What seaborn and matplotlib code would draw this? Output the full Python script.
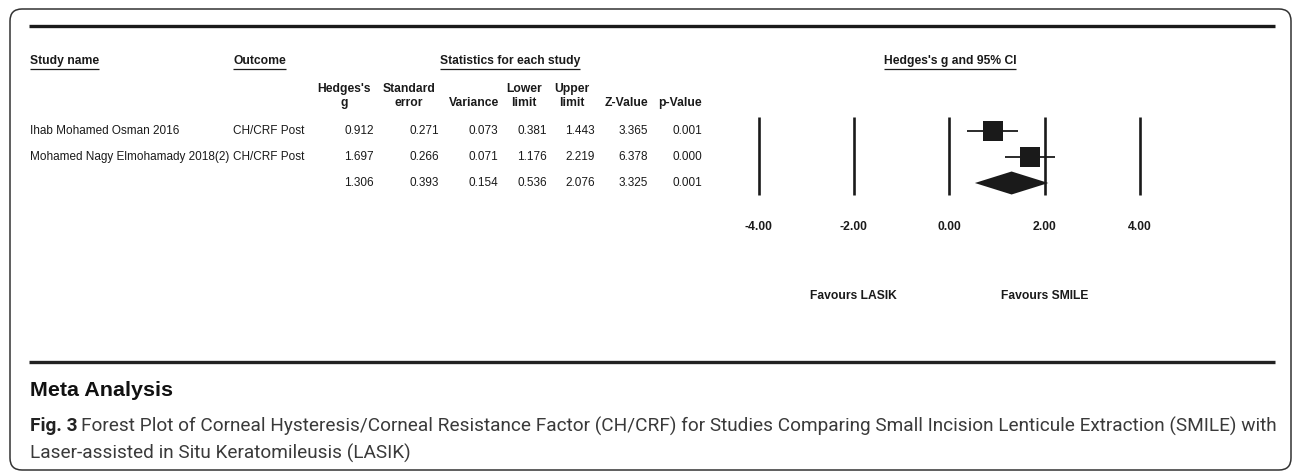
import numpy as np
import pandas as pd
import matplotlib
matplotlib.use("Agg")
import matplotlib.pyplot as plt
import seaborn as sns
from matplotlib.patches import FancyBboxPatch

# ---------------- data ----------------
study_names = ["Ihab Mohamed Osman 2016", "Mohamed Nagy Elmohamady 2018(2)", ""]
outcomes = ["CH/CRF Post", "CH/CRF Post", ""]
hedges_g = [0.912, 1.697, 1.306]
std_err = [0.271, 0.266, 0.393]
variance = [0.073, 0.071, 0.154]
lower_limit = [0.381, 1.176, 0.536]
upper_limit = [1.443, 2.219, 2.076]
z_value = [3.365, 6.378, 3.325]
p_value = [0.001, 0.000, 0.001]
col_headers = ["Hedges's\ng", "Standard\nerror", "Variance", "Lower\nlimit", "Upper\nlimit", "Z-Value", "p-Value"]
axis_ticks = [-4, -2, 0, 2, 4]
axis_tick_labels = ["-4.00", "-2.00", "0.00", "2.00", "4.00"]
favours = ["Favours LASIK", "Favours SMILE"]
favours_pos = [-2, 2]

sns.set_theme(style="white")
plt.rcParams["font.family"] = ["Liberation Sans", "DejaVu Sans"]

W, H = 1292, 472
fig = plt.figure(figsize=(W / 100, H / 100), dpi=100)
bg = fig.add_axes([0, 0, 1, 1])
bg.set_xlim(0, W)
bg.set_ylim(H, 0)
bg.axis("off")

INK = "#1a1a1a"
FS = 8.7
FS_ROW = 8.45

# frame
frame = FancyBboxPatch((10, 9), 1281, 461, boxstyle="round,pad=0,rounding_size=12",
                       fill=False, ec="#333333", lw=1.1, transform=bg.transData, clip_on=False)
bg.add_patch(frame)
bg.plot([29, 1275], [26, 26], color=INK, lw=2.4, solid_capstyle="butt")
bg.plot([29, 1275], [362, 362], color="#222222", lw=2.4, solid_capstyle="butt")

fig.canvas.draw()
renderer = fig.canvas.get_renderer()


def underline(t):
    bb = t.get_window_extent(renderer)
    y = H - bb.y0 + 1.5
    bg.plot([bb.x0, bb.x1], [y, y], color=INK, lw=0.9, solid_capstyle="butt")


def fit(t, target_px):
    bb = t.get_window_extent(renderer)
    t.set_fontsize(t.get_fontsize() * target_px / bb.width)
    return t


hy = 61
for txt, x, ha in [("Study name", 30, "left"), ("Outcome", 233, "left"),
                   ("Statistics for each study", 510, "center"),
                   ("Hedges's g and 95% CI", 950, "center")]:
    t = bg.text(x, hy, txt, ha=ha, va="center", fontsize=FS, fontweight="bold", color=INK)
    underline(t)

# column headers
col_right = [374, 439, 498, 547, 595, 648, 702]
col_center = [344, 409, 474, 524, 572, 626, 680]
for hdr, cx in zip(col_headers, col_center):
    lines = hdr.split("\n")
    if len(lines) == 2:
        bg.text(cx, 89, lines[0], ha="center", va="center", fontsize=FS, fontweight="bold", color=INK)
        bg.text(cx, 103, lines[1], ha="center", va="center", fontsize=FS, fontweight="bold", color=INK)
    else:
        bg.text(cx, 103, lines[0], ha="center", va="center", fontsize=FS, fontweight="bold", color=INK)

row_y = [131, 157, 183]
cols = [hedges_g, std_err, variance, lower_limit, upper_limit, z_value, p_value]
for i, ry in enumerate(row_y):
    bg.text(30, ry, study_names[i], ha="left", va="center", fontsize=FS_ROW, color=INK)
    bg.text(233, ry, outcomes[i], ha="left", va="center", fontsize=FS_ROW, color=INK)
    for vals, xr in zip(cols, col_right):
        bg.text(xr, ry, f"{vals[i]:.3f}", ha="right", va="center", fontsize=FS_ROW, color=INK)

# ---------------- forest plot ----------------
X0, SC = 949.3, 47.7       # pixel of 0 and px per unit
R0, RS = 131, 26.0         # pixel of row 0 and px per row
px_l, px_r, py_t, py_b = 730, 1170, 100, 320
fax = fig.add_axes([px_l / W, 1 - py_b / H, (px_r - px_l) / W, (py_b - py_t) / H])
fax.set_xlim((px_l - X0) / SC, (px_r - X0) / SC)
fax.set_ylim((py_b - R0) / RS, (py_t - R0) / RS)
fax.axis("off")
fax.patch.set_alpha(0)

fax.vlines(axis_ticks, (117 - R0) / RS, (195 - R0) / RS, color=INK, lw=1.9)

df = pd.DataFrame({"g": hedges_g[:2], "lo": lower_limit[:2], "hi": upper_limit[:2],
                   "row": [0, 1]})
fax.hlines(df["row"], df["lo"], df["hi"], color=INK, lw=1.3)
sns.scatterplot(data=df, x="g", y="row", marker="s", s=200, color=INK,
                edgecolor="none", ax=fax, legend=False, zorder=3)

hh = 11.5 / RS
fax.fill([lower_limit[2], hedges_g[2], upper_limit[2], hedges_g[2]],
         [2, 2 - hh, 2, 2 + hh], color=INK, lw=0, zorder=3)

for tv, tl in zip(axis_ticks, axis_tick_labels):
    fax.text(tv, (227 - R0) / RS, tl, ha="center", va="center", fontsize=FS,
             fontweight="bold", color=INK)
for fv, fl in zip(favours_pos, favours):
    fax.text(fv, (296 - R0) / RS, fl, ha="center", va="center", fontsize=FS,
             fontweight="bold", color=INK)

# ---------------- caption ----------------
tm = bg.text(30, 390, "Meta Analysis", ha="left", va="center", fontsize=13.5,
             fontweight="bold", color="#111111",
             family=["Liberation Sans Narrow", "Liberation Sans"])
fit(tm, 142)

cap_font = ["Roboto", "Open Sans", "DejaVu Sans"]
CAP_FS = 11.0
CAP_COL = "#3a3a3a"
GAP = 4
t1 = bg.text(30, 426, "Fig. 3", ha="left", va="center", fontsize=CAP_FS, fontweight="bold",
             color="#222222", family=cap_font)
t2 = bg.text(100, 426, "Forest Plot of Corneal Hysteresis/Corneal Resistance Factor (CH/CRF) for Studies "
             "Comparing Small Incision Lenticule Extraction (SMILE) with", ha="left", va="center",
             fontsize=CAP_FS, color=CAP_COL, family=cap_font)
w1 = t1.get_window_extent(renderer).width
w2 = t2.get_window_extent(renderer).width
k = (1272 - 30 - GAP) / (w1 + w2)
fs_cap = CAP_FS * k
t1.set_fontsize(fs_cap)
t2.set_fontsize(fs_cap)
t2.set_x(30 + w1 * k + GAP)
bg.text(30, 453, "Laser-assisted in Situ Keratomileusis (LASIK)", ha="left", va="center",
        fontsize=fs_cap, color=CAP_COL, family=cap_font)

fig.savefig("out.png", dpi=100)
